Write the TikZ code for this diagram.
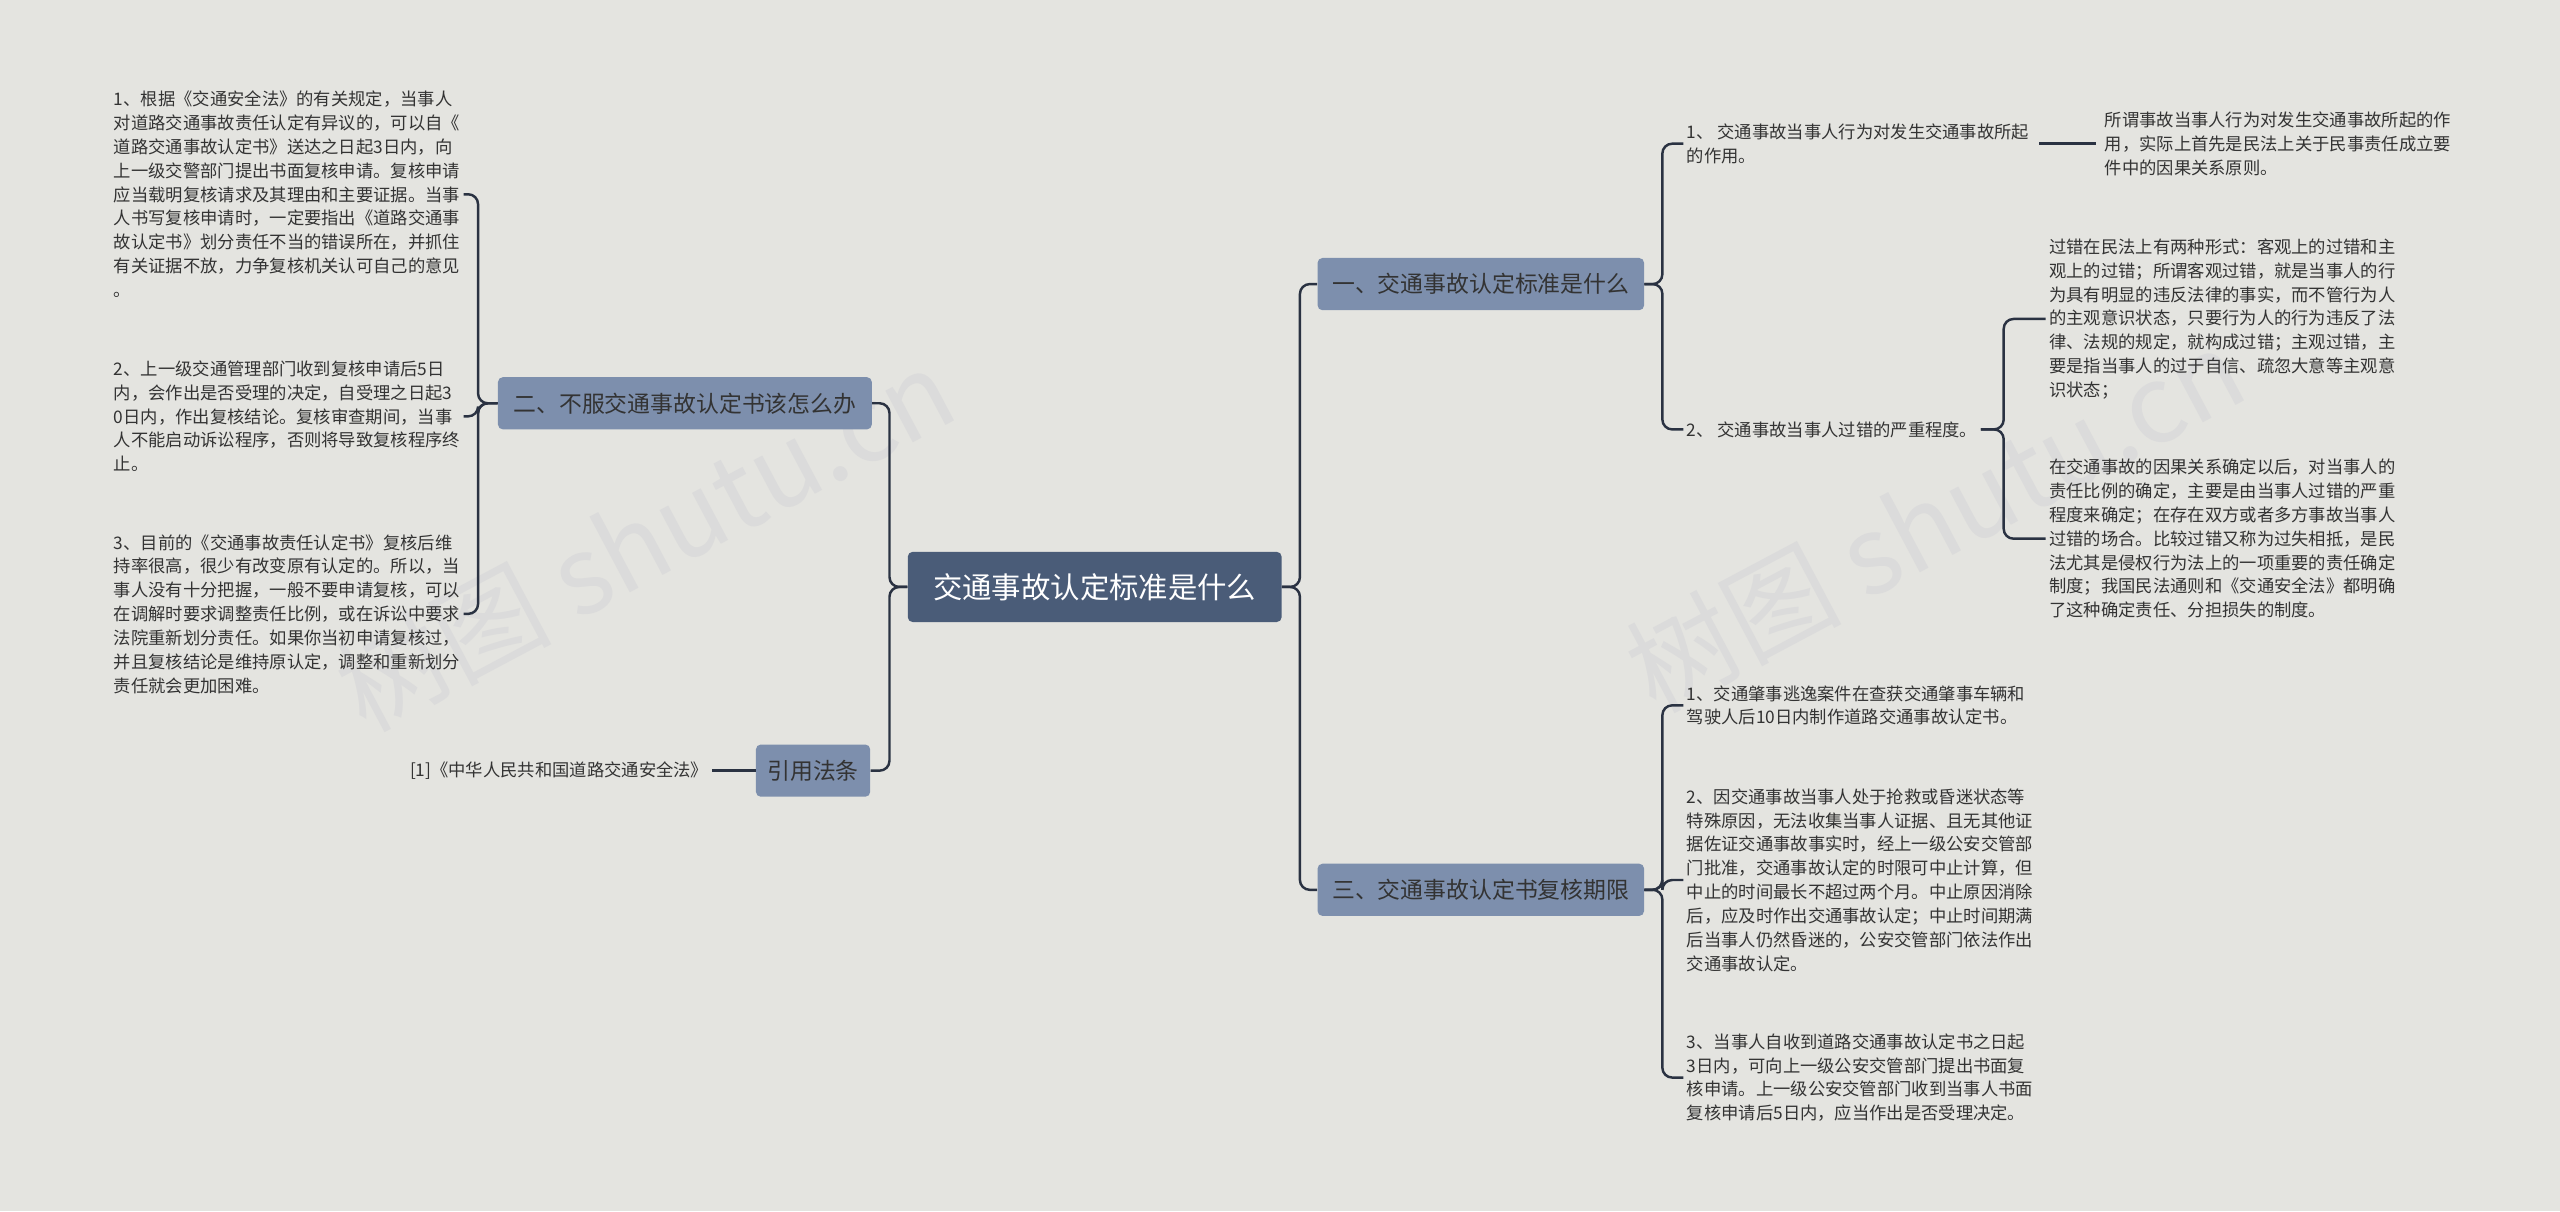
\documentclass[tikz,border=0pt]{standalone}
\usepackage{fontspec}
\setmainfont{Noto Sans CJK SC}
\begin{document}
\begin{tikzpicture}[x=1pt,y=-1pt,
  txt/.style={font=\fontsize{10.6}{14.6}\selectfont,text=black!80,align=left,inner sep=2pt},
  br/.style={fill=branchc,rounded corners=3pt,font=\fontsize{14}{16}\selectfont,text=black!80,inner sep=5pt,minimum height=32pt},
  ln/.style={draw=linec,line width=1.5pt,rounded corners=6pt}]
\definecolor{bgc}{HTML}{E4E4E0}
\definecolor{branchc}{HTML}{7D8FAD}
\definecolor{rootc}{HTML}{4A5C78}
\definecolor{linec}{HTML}{2A3242}
\fill[bgc] (0,0) rectangle (1568,742);
\useasboundingbox (0,0) rectangle (1568,742);
% watermarks
\node[rotate=28,text=black!14,font=\fontsize{66}{66}\selectfont] (w1) at (395,330) {树图 shutu.cn};
\node[rotate=28,text=black!14,font=\fontsize{66}{66}\selectfont] (w2) at (1185,318) {树图 shutu.cn};
% root
\node[fill=rootc,rounded corners=3pt,text=white,font=\fontsize{18}{20}\selectfont,minimum width=229pt,minimum height=43pt] (root) at (670.5,359.5) {交通事故认定标准是什么};
% branches
\node[br,minimum width=229pt] (b1) at (419.5,247) {二、不服交通事故认定书该怎么办};
\node[br,minimum width=70pt] (b2) at (498,472) {引用法条};
\node[br,minimum width=200pt] (b3) at (907,174) {一、交通事故认定标准是什么};
\node[br,minimum width=200pt] (b4) at (907,545) {三、交通事故认定书复核期限};
% left texts
\node[txt,anchor=east] (l1) at (284,119) {1、根据《交通安全法》的有关规定，当事人\\对道路交通事故责任认定有异议的，可以自《\\道路交通事故认定书》送达之日起3日内，向\\上一级交警部门提出书面复核申请。复核申请\\应当载明复核请求及其理由和主要证据。当事\\人书写复核申请时，一定要指出《道路交通事\\故认定书》划分责任不当的错误所在，并抓住\\有关证据不放，力争复核机关认可自己的意见\\。};
\node[txt,anchor=east] (l2) at (284,255) {2、上一级交通管理部门收到复核申请后5日\\内，会作出是否受理的决定，自受理之日起3\\0日内，作出复核结论。复核审查期间，当事\\人不能启动诉讼程序，否则将导致复核程序终\\止。};
\node[txt,anchor=east] (l3) at (284,376) {3、目前的《交通事故责任认定书》复核后维\\持率很高，很少有改变原有认定的。所以，当\\事人没有十分把握，一般不要申请复核，可以\\在调解时要求调整责任比例，或在诉讼中要求\\法院重新划分责任。如果你当初申请复核过，\\并且复核结论是维持原认定，调整和重新划分\\责任就会更加困难。};
\node[txt,anchor=east] (l4) at (436,472) {[1]《中华人民共和国道路交通安全法》};
% right texts
\node[txt,anchor=west] (r1) at (1031,88) {1、 交通事故当事人行为对发生交通事故所起\\的作用。};
\node[txt,anchor=west] (r1a) at (1287,88) {所谓事故当事人行为对发生交通事故所起的作\\用，实际上首先是民法上关于民事责任成立要\\件中的因果关系原则。};
\node[txt,anchor=west] (r2) at (1031,263) {2、 交通事故当事人过错的严重程度。};
\node[txt,anchor=north west] (r2a) at (1253,144) {过错在民法上有两种形式：客观上的过错和主\\观上的过错；所谓客观过错，就是当事人的行\\为具有明显的违反法律的事实，而不管行为人\\的主观意识状态，只要行为人的行为违反了法\\律、法规的规定，就构成过错；主观过错，主\\要是指当事人的过于自信、疏忽大意等主观意\\识状态；};
\node[txt,anchor=north west] (r2b) at (1253,279) {在交通事故的因果关系确定以后，对当事人的\\责任比例的确定，主要是由当事人过错的严重\\程度来确定；在存在双方或者多方事故当事人\\过错的场合。比较过错又称为过失相抵，是民\\法尤其是侵权行为法上的一项重要的责任确定\\制度；我国民法通则和《交通安全法》都明确\\了这种确定责任、分担损失的制度。};
\node[txt,anchor=west] (r3) at (1031,432) {1、交通肇事逃逸案件在查获交通肇事车辆和\\驾驶人后10日内制作道路交通事故认定书。};
\node[txt,anchor=west] (r4) at (1031,539) {2、因交通事故当事人处于抢救或昏迷状态等\\特殊原因，无法收集当事人证据、且无其他证\\据佐证交通事故事实时，经上一级公安交管部\\门批准，交通事故认定的时限可中止计算，但\\中止的时间最长不超过两个月。中止原因消除\\后，应及时作出交通事故认定；中止时间期满\\后当事人仍然昏迷的，公安交管部门依法作出\\交通事故认定。};
\node[txt,anchor=west] (r5) at (1031,660) {3、当事人自收到道路交通事故认定书之日起\\3日内，可向上一级公安交管部门提出书面复\\核申请。上一级公安交管部门收到当事人书面\\复核申请后5日内，应当作出是否受理决定。};
% connectors
\draw[ln] (root.west) -- ++(-11,0) |- (b1.east);
\draw[ln] (root.west) -- ++(-11,0) |- (b2.east);
\draw[ln] (root.east) -- ++(11,0) |- (b3.west);
\draw[ln] (root.east) -- ++(11,0) |- (b4.west);
\draw[ln] (b1.west) -- ++(-12,0) |- (l1.east);
\draw[ln] (b1.west) -- ++(-12,0) |- (l2.east);
\draw[ln] (b1.west) -- ++(-12,0) |- (l3.east);
\draw[ln] (b2.west) -- (l4.east);
\draw[ln] (b3.east) -- ++(11,0) |- (r1.west);
\draw[ln] (b3.east) -- ++(11,0) |- (r2.west);
\draw[ln] ([xshift=4pt]r1.east) -- ([xshift=-3pt]r1a.west);
\draw[ln] (r2.east) -- ++(14,0) |- (r2a.west);
\draw[ln] (r2.east) -- ++(14,0) |- (r2b.west);
\draw[ln] (b4.east) -- ++(11,0) |- (r3.west);
\draw[ln] (b4.east) -- ++(11,0) |- (r4.west);
\draw[ln] (b4.east) -- ++(11,0) |- (r5.west);
\end{tikzpicture}
\end{document}
